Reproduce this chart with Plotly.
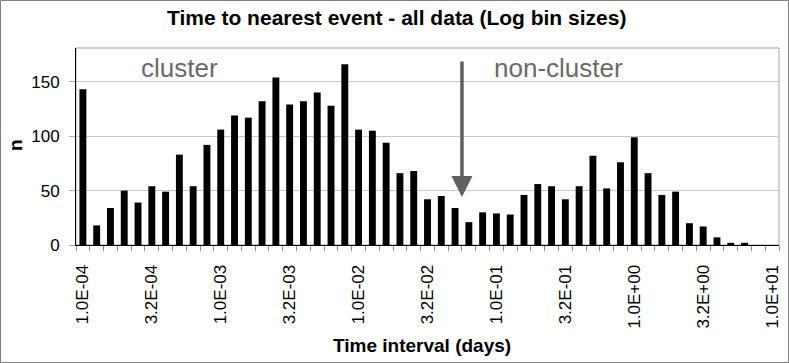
import plotly.graph_objects as go

# counts per log bin (10 bins per decade, 1.0E-04 .. 1.0E+01)
counts = [143, 18, 34, 50, 39, 54, 49, 83, 54, 92,
          106, 119, 117, 132, 154, 129, 132, 140, 128, 166,
          106, 105, 94, 66, 68, 42, 45, 34, 21, 30,
          29, 28, 46, 56, 54, 42, 54, 82, 52, 76,
          99, 66, 46, 49, 20, 17, 7, 2, 2, 0,
          0]
tick_labels = ["1.0E-04", "3.2E-04", "1.0E-03", "3.2E-03", "1.0E-02", "3.2E-02",
               "1.0E-01", "3.2E-01", "1.0E+00", "3.2E+00", "1.0E+01"]
bins = list(range(len(counts)))
tick_pos = [i * 5 for i in range(len(tick_labels))]

font = "Arial, Liberation Sans, sans-serif"

fig = go.Figure()
fig.add_trace(go.Bar(x=bins, y=counts, width=0.5, marker=dict(color='black', line_width=0)))

fig.update_layout(
    width=789, height=363,
    margin=dict(l=76, r=10, t=48, b=118),
    paper_bgcolor='white', plot_bgcolor='white',
    showlegend=False,
    font=dict(family=font, color='black'),
    xaxis=dict(range=[-0.5, len(counts) - 0.5], tickmode='array', tickvals=tick_pos, ticktext=tick_labels,
               tickangle=-90, tickfont=dict(size=17, family=font, color='black'), automargin=False,
               showgrid=False, zeroline=False, showline=True, linecolor='black', linewidth=1,
               ticks='', ticklabelstandoff=12,
               minor=dict(tickmode='linear', tick0=-0.5, dtick=1, ticks='outside', ticklen=5,
                          tickcolor='#909090', showgrid=False)),
    yaxis=dict(range=[0, 181], tickvals=[0, 50, 100, 150], tickfont=dict(size=17, family=font, color='black'),
               automargin=False, showgrid=True, gridcolor='#c8c8c8', gridwidth=1, zeroline=False,
               showline=True, linecolor='black', linewidth=1,
               ticks='outside', ticklen=6, tickcolor='#b0b0b0', ticklabelstandoff=6),
    bargap=0.5,
)

# plot area and chart area borders
fig.add_shape(type='rect', xref='paper', yref='paper', x0=0, x1=1, y0=0, y1=1,
              line=dict(color='#a0a0a0', width=1), layer='below')
fig.add_shape(type='rect', xref='paper', yref='paper',
              x0=-75.5 / 703, x1=(788.5 - 76) / 703, y0=-(362.5 - 245) / 197, y1=(245 - 0.5) / 197,
              line=dict(color='#808080', width=1), layer='below')

# titles
fig.add_annotation(x=(396 - 76) / 703, y=(245 - 18) / 197, xref='paper', yref='paper', showarrow=False,
                   xanchor='center', yanchor='middle',
                   text="<b>Time to nearest event - all data (Log bin sizes)</b>",
                   font=dict(size=21, family=font, color='black'))
fig.add_annotation(x=(422 - 76) / 703, y=-(345 - 245) / 197, xref='paper', yref='paper', showarrow=False,
                   xanchor='center', yanchor='middle',
                   text="<b>Time interval (days)</b>", font=dict(size=19, family=font, color='black'))
fig.add_annotation(x=-(76 - 15) / 703, y=(245 - 145) / 197, xref='paper', yref='paper', showarrow=False,
                   xanchor='center', yanchor='middle',
                   text="<b>n</b>", textangle=-90, font=dict(size=19, family=font, color='black'))

fig.add_annotation(x=7, y=163, xref='x', yref='y', text="cluster", showarrow=False,
                   font=dict(size=26, family=font, color='#6a6a6a'))
fig.add_annotation(x=34.5, y=163, xref='x', yref='y', text="non-cluster", showarrow=False,
                   font=dict(size=26, family=font, color='#6a6a6a'))
fig.add_annotation(x=27.5, y=44, ax=27.5, ay=170, xref='x', yref='y', axref='x', ayref='y',
                   text="", showarrow=True, arrowhead=2, arrowsize=1.2, arrowwidth=3.5, arrowcolor='#606060')

fig.write_html("out.html", config={'displayModeBar': False},
               post_script="document.body.style.margin='0';")
